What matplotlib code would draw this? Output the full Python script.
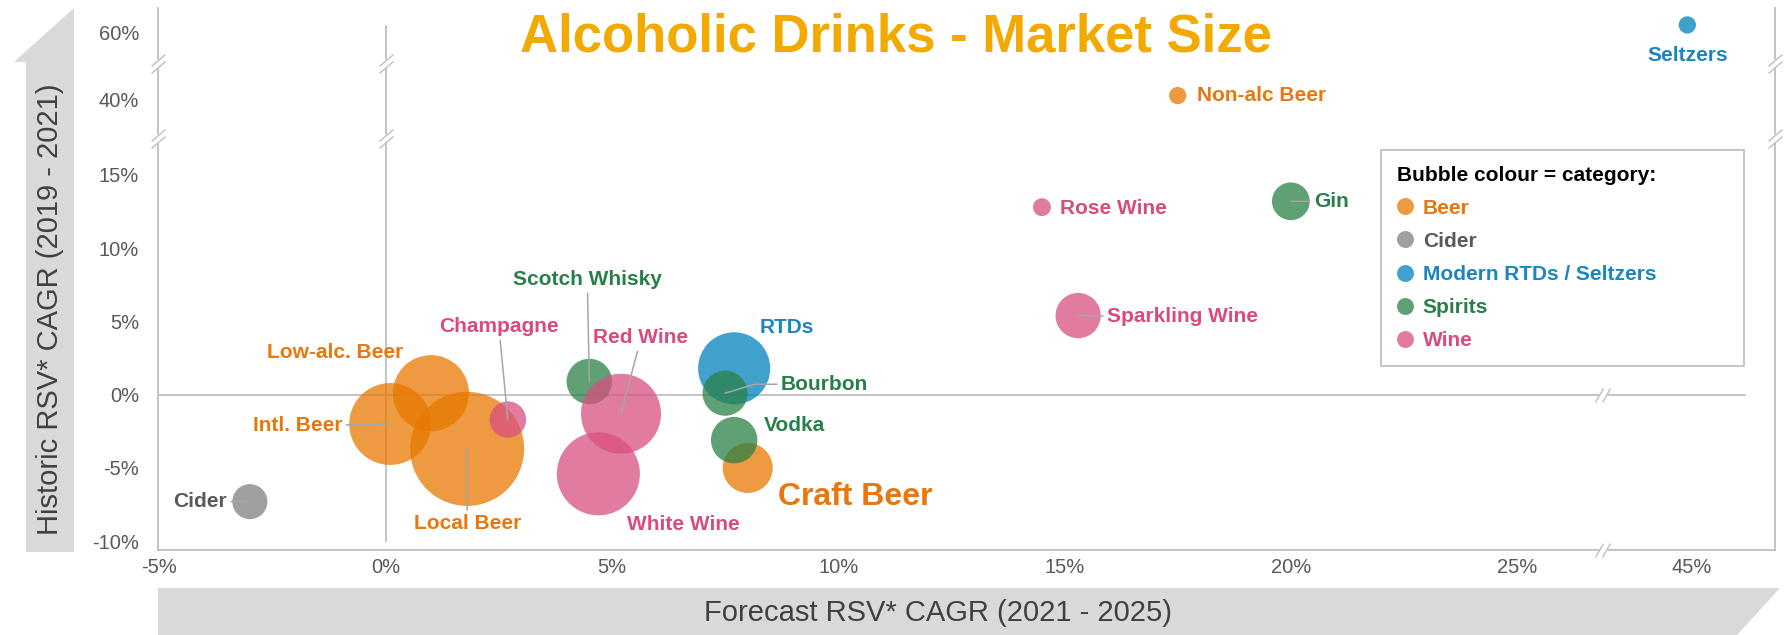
import numpy as np
import matplotlib
matplotlib.use("Agg")
import matplotlib.pyplot as plt
from matplotlib.lines import Line2D
from matplotlib.patches import Polygon
from matplotlib.transforms import offset_copy

plt.rcParams['font.family'] = ['Liberation Sans', 'DejaVu Sans']

# RSV CAGR in %, bubble area = market size (relative units)
drinks = ["Intl. Beer", "Low-alc. Beer", "Local Beer", "Craft Beer", "Non-alc Beer",
          "Cider",
          "RTDs", "Seltzers",
          "Scotch Whisky", "Bourbon", "Vodka", "Gin",
          "Champagne", "Red Wine", "White Wine", "Rose Wine", "Sparkling Wine"]
categories = ["Beer", "Beer", "Beer", "Beer", "Beer",
              "Cider",
              "Modern RTDs / Seltzers", "Modern RTDs / Seltzers",
              "Spirits", "Spirits", "Spirits", "Spirits",
              "Wine", "Wine", "Wine", "Wine", "Wine"]
forecast_cagr = [0.1, 1.0, 1.8, 8.0, 17.5,
                 -3.0,
                 7.7, 44.9,
                 4.5, 7.5, 7.7, 20.0,
                 2.7, 5.2, 4.7, 14.5, 15.3]
historic_cagr = [-2.0, 0.1, -3.7, -5.0, 40.3,
                 -7.3,
                 1.8, 60.5,
                 0.9, 0.1, -3.1, 13.2,
                 -1.7, -1.3, -5.4, 12.8, 5.4]
market_size = [67, 58, 130, 25, 3.0,
               12.3,
               52, 3.0,
               20.7, 20.3, 21.6, 14.2,
               13.3, 64, 69, 3.2, 20.5]

category_names = ["Beer", "Cider", "Modern RTDs / Seltzers", "Spirits", "Wine"]
x_ticks = [-5, 0, 5, 10, 15, 20, 25, 45]
y_ticks = [-10, -5, 0, 5, 10, 15, 40, 60]

bubble_colors = {"Beer": "#E77800", "Cider": "#808080", "Modern RTDs / Seltzers": "#0082BC",
                 "Spirits": "#2A8046", "Wine": "#D85080"}
text_colors = {"Beer": "#E8770E", "Cider": "#595959", "Modern RTDs / Seltzers": "#1A86C0",
               "Spirits": "#27804A", "Wine": "#D94A7E"}

# label placement: offset in pixels from bubble centre, alignment, leader line
label_layout = {
    "Cider": (-23, 0, "right", "arc3"),
    "Intl. Beer": (-48, -2, "right", "arc3"),
    "Low-alc. Beer": (-96, 41, "center", None),
    "Local Beer": (0, -75, "center", "arc3"),
    "Champagne": (-9, 93, "center", "arc3"),
    "Scotch Whisky": (-2, 102, "center", "arc3"),
    "Red Wine": (20, 76, "center", "arc3"),
    "White Wine": (85, -51, "center", None),
    "RTDs": (53, 41, "center", None),
    "Bourbon": (56, 9, "left", "angle,angleA=0,angleB=17,rad=0"),
    "Vodka": (30, 15, "left", None),
    "Craft Beer": (30, -29, "left", None),
    "Non-alc Beer": (19, 0, "left", None),
    "Rose Wine": (18, -1, "left", None),
    "Gin": (23, 0, "left", "arc3"),
    "Sparkling Wine": (29, -1, "left", "arc3"),
    "Seltzers": (0, -31, "center", None),
}

# broken axes: real value knots -> display knots (pixels)
X_REAL = [-5.03, 26.89, 43.03, 46.84]
X_DISP = [0, 1444.7, 1444.8, 1617]
Y_REAL = [-10.6, 17.52, 37.4, 42.53, 57.9, 61.66]
Y_DISP = [0, 412, 412.1, 487, 487.1, 542]

W, H = 1789, 635
fig = plt.figure(figsize=(W / 100, H / 100), dpi=100)
ax = fig.add_axes([158 / W, (H - 550) / H, (1775 - 158) / W, (550 - 8) / H])

ax.set_xscale('function', functions=(lambda v: np.interp(v, X_REAL, X_DISP),
                                      lambda d: np.interp(d, X_DISP, X_REAL)))
ax.set_yscale('function', functions=(lambda v: np.interp(v, Y_REAL, Y_DISP),
                                      lambda d: np.interp(d, Y_DISP, Y_REAL)))
ax.set_xlim(X_REAL[0], X_REAL[-1])
ax.set_ylim(Y_REAL[0], Y_REAL[-1])

for s in ax.spines.values():
    s.set_visible(False)

axis_col = "#BFBFBF"
ax.axvline(X_REAL[0], color=axis_col, lw=1.3, clip_on=False, zorder=1)
ax.axvline(X_REAL[-1], color=axis_col, lw=1.3, clip_on=False, zorder=1)
ax.axhline(Y_REAL[0], color=axis_col, lw=1.3, clip_on=False, zorder=1)
ax.plot([0, 0], [-10, 60.43], color=axis_col, lw=1.3, zorder=1)
ax.plot([X_REAL[0], 46.18], [0, 0], color=axis_col, lw=1.3, zorder=1)


def break_mark(x, y, vertical):
    ax.plot(x, y, marker='s', ms=6, mfc='white', mec='none', clip_on=False, zorder=2)
    if vertical:
        offs = [(0, -3.5), (0, 3.5)]
        slash = [(-7, -6), (7, 6)]
    else:
        offs = [(-3.5, 0), (3.5, 0)]
        slash = [(-4, -7), (4, 7)]
    for dx, dy in offs:
        tr = offset_copy(ax.transData, fig=fig, x=dx, y=dy, units='dots')
        ax.plot(x, y, marker=slash, ms=10, mec=axis_col, mew=1.0, transform=tr,
                clip_on=False, zorder=2)


for xv in (X_REAL[0], 0, X_REAL[-1]):
    break_mark(xv, Y_REAL[1], True)
    break_mark(xv, Y_REAL[3], True)
for yv in (Y_REAL[0], 0):
    break_mark(X_REAL[1], yv, False)

ax.set_xticks(x_ticks)
ax.set_xticklabels([f"{t}%" for t in x_ticks])
ax.set_yticks(y_ticks)
ax.set_yticklabels([f"{t}%" for t in y_ticks])
ax.minorticks_off()
ax.tick_params(axis='both', length=0, labelsize=14.5, labelcolor="#595959")
ax.tick_params(axis='x', pad=6)
ax.tick_params(axis='y', pad=13.5)

fx = np.array(forecast_cagr)
hy = np.array(historic_cagr)
ms = np.array(market_size)
cats = np.array(categories)
for cat in category_names:
    m = cats == cat
    ax.scatter(fx[m], hy[m], s=ms[m] * 51.84, color=bubble_colors[cat], alpha=0.75,
               edgecolors='none', zorder=3, clip_on=False)

for i, name in enumerate(drinks):
    dx, dy, ha, leader = label_layout[name]
    arrow = None
    if leader:
        arrow = dict(arrowstyle='-', color="#A6A6A6", lw=1.1, shrinkA=1, shrinkB=0,
                     connectionstyle=leader)
    ax.annotate(name, (forecast_cagr[i], historic_cagr[i]), xytext=(dx, dy),
                textcoords='offset pixels', ha=ha, va='center',
                fontsize=23 if name == "Craft Beer" else 15, fontweight='bold',
                color=text_colors[categories[i]], arrowprops=arrow, zorder=4)

handles = [Line2D([], [], ls='', marker='o', ms=12.2, mfc=bubble_colors[c], mec='none', alpha=0.75)
           for c in category_names]
leg = ax.legend(handles, category_names, title="Bubble colour = category:",
                loc='upper left', bbox_to_anchor=(1381 / W, 1 - 150 / H, 363 / W, 0),
                bbox_transform=fig.transFigure, mode='expand', borderaxespad=0,
                fontsize=15, title_fontproperties={'weight': 'bold', 'size': 15},
                alignment='left', fancybox=False, framealpha=1, borderpad=0.75,
                labelspacing=0.675, handlelength=0.8, handletextpad=0.45)
leg.get_frame().set_edgecolor(axis_col)
leg.get_frame().set_linewidth(1.3)
for txt, c in zip(leg.get_texts(), category_names):
    txt.set_color(text_colors[c])
    txt.set_fontweight('bold')


def px(x, y):
    return (x / W, 1 - y / H)


band_col = "#D9D9D9"
fig.add_artist(Polygon([px(74, 8), px(14, 62), px(26, 62), px(26, 552), px(74, 552)],
                       closed=True, transform=fig.transFigure, color=band_col, lw=0))
fig.add_artist(Polygon([px(158, 588), px(1780, 588), px(1737, 635), px(158, 635)],
                       closed=True, transform=fig.transFigure, color=band_col, lw=0))

fig.text(*px(50, 309), "Historic RSV* CAGR (2019 - 2021)", rotation=90, ha='center', va='center',
         fontsize=21, color="#404040")
fig.text(*px(938, 613), "Forecast RSV* CAGR (2021 - 2025)", ha='center', va='center',
         fontsize=21, color="#404040")
fig.text(*px(896, 38), "Alcoholic Drinks - Market Size", ha='center', va='center',
         fontsize=38, fontweight='bold', color="#F2A900")

fig.savefig("out.png", dpi=100)
